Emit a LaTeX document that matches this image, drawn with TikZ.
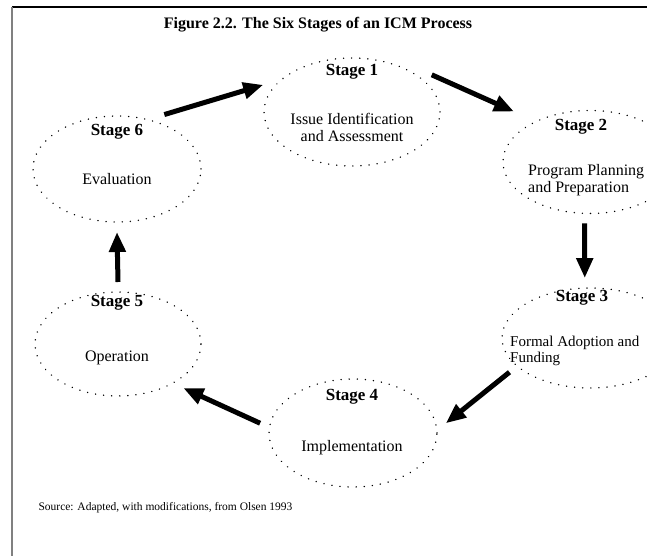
\documentclass[tikz,border=0pt]{standalone}
\usepackage{fontspec}
\setmainfont{Liberation Serif}
\usetikzlibrary{arrows.meta,shapes.geometric}
\tikzset{
  stageoval/.style={ellipse,draw=black,line width=1.5pt,
    dash pattern=on 0.1pt off 8pt,line cap=round,inner sep=0pt,outer sep=10pt},
  stagehead/.style={font=\fontsize{17}{20}\selectfont\bfseries,inner sep=0pt},
  stagetext/.style={font=\fontsize{16}{17}\selectfont,align=center,inner sep=0pt},
  flow/.style={-{Triangle[length=20pt,width=16pt]},line width=5pt,black},
  frameline/.style={line width=2pt}
}

\begin{document}
\begin{tikzpicture}[x=1pt,y=-1pt]
  \useasboundingbox (0,0) rectangle (647,556);
  \clip (0,0) rectangle (647,556);
  % frame of the figure
  \draw[frameline] (12,7) -- (647,7);
  \draw[frameline,gray] (12,7) -- (12,556);
  \node[font=\fontsize{16}{19}\selectfont\bfseries] (title) at (318,25)
    {Figure 2.2. The Six Stages of an ICM Process};
  % the six stages
  \node[stageoval,minimum width=176pt,minimum height=108pt] (s1) at (352,112) {};
  \node[stageoval,minimum width=174pt,minimum height=103pt] (s2) at (590,162) {};
  \node[stageoval,minimum width=176pt,minimum height=100pt] (s3) at (590,338) {};
  \node[stageoval,minimum width=168pt,minimum height=108pt] (s4) at (353,433) {};
  \node[stageoval,minimum width=166pt,minimum height=104pt] (s5) at (118,344) {};
  \node[stageoval,minimum width=168pt,minimum height=106pt] (s6) at (117,169) {};
  \node[stagehead] (h1) at (352,72) {Stage 1};
  \node[stagetext] (d1) at (352,127) {Issue Identification\\and Assessment};
  \node[stagehead] (h2) at (581,127) {Stage 2};
  \node[stagetext,anchor=west,align=left] (d2) at (528,180) {Program Planning\\and Preparation};
  \node[stagehead] (h3) at (582,298) {Stage 3};
  \node[stagetext,anchor=west,align=left,font=\fontsize{15}{16}\selectfont] (d3) at (510,351)
    {Formal Adoption and\\Funding};
  \node[stagehead] (h4) at (352,397) {Stage 4};
  \node[stagetext] (d4) at (352,448) {Implementation};
  \node[stagehead] (h5) at (117,303) {Stage 5};
  \node[stagetext] (d5) at (117,358) {Operation};
  \node[stagehead] (h6) at (117,132) {Stage 6};
  \node[stagetext] (d6) at (117,179) {Evaluation};
  % cycle
  \draw[flow] (s6.49) -- (s1.163);
  \draw[flow,shorten >=12pt] (s1.25) -- (s2.145);
  \draw[flow] (s2.265) -- (s3.95);
  \draw[flow] (s3.203) -- (s4.6);
  \draw[flow] (s4.174) -- (s5.326);
  \draw[flow] (s5.90) -- (s6.270);
  \node[anchor=west,font=\fontsize{11.5}{14}\selectfont] (source) at (35,508)
    {Source: Adapted, with modifications, from Olsen 1993};
\end{tikzpicture}
\end{document}
